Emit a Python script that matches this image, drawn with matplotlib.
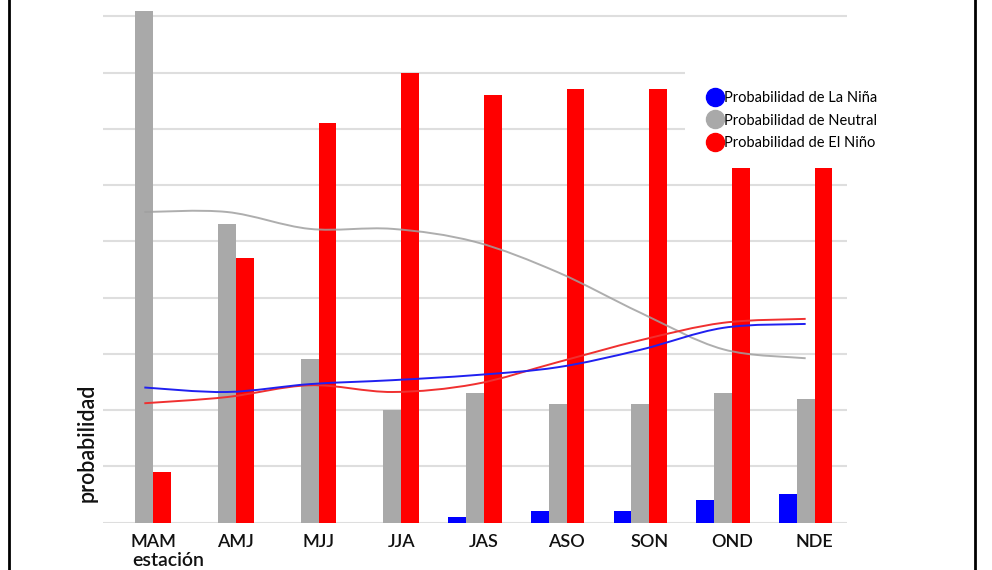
import numpy as np
import matplotlib
matplotlib.use("Agg")
import matplotlib.pyplot as plt
from matplotlib.path import Path
from matplotlib.patches import PathPatch, Rectangle
from matplotlib.lines import Line2D

plt.rcParams['font.family'] = ['Lato', 'DejaVu Sans']

# seasons and forecast probabilities (%)
estaciones = ['MAM', 'AMJ', 'MJJ', 'JJA', 'JAS', 'ASO', 'SON', 'OND', 'NDE']
prob_nina = [0, 0, 0, 0, 1, 2, 2, 4, 5]
prob_neutral = [91, 53, 29, 20, 23, 21, 21, 23, 22]
prob_nino = [9, 47, 71, 80, 76, 77, 77, 63, 63]

# climatological probabilities (%) - smooth lines
clim_nina = [24, 23.2, 24.6, 25.3, 26.2, 27.6, 30.7, 34.6, 35.3]
clim_neutral = [55.2, 55.2, 52.2, 52.2, 49.9, 44.5, 37.3, 30.8, 29.2]
clim_nino = [21.2, 22.3, 24.4, 23.2, 24.6, 28.5, 32.4, 35.5, 36.2]

c_nina = '#0000ff'
c_neutral = '#a9a9a9'
c_nino = '#ff0000'


def smooth_path(x, y):
    # catmull-rom style bezier through the data points (like excel smoothing)
    x = np.asarray(x, float)
    y = np.asarray(y, float)
    pts = np.column_stack([x, y])
    verts = [pts[0]]
    codes = [Path.MOVETO]
    n = len(pts)
    for i in range(n - 1):
        p0 = pts[i - 1] if i > 0 else pts[i]
        p1 = pts[i]
        p2 = pts[i + 1]
        p3 = pts[i + 2] if i + 2 < n else pts[i + 1]
        c1 = p1 + (p2 - p0) / 6.0
        c2 = p2 - (p3 - p1) / 6.0
        verts += [c1, c2, p2]
        codes += [Path.CURVE4] * 3
    return Path(verts, codes)


fig = plt.figure(figsize=(9.92, 5.7), dpi=100)
ax = fig.add_axes([103 / 992, 1 - 522.5 / 570, 744 / 992, 522.5 / 570])

x = np.arange(len(estaciones))
w = 0.215

ax.bar(x - w, prob_nina, w, color=c_nina, zorder=2)
ax.bar(x, prob_neutral, w, color=c_neutral, zorder=2)
ax.bar(x + w, prob_nino, w, color=c_nino, zorder=2)

for vals, col, a in [(clim_neutral, '#a0a0a0', 0.85), (clim_nino, '#f03030', 1), (clim_nina, '#2020f0', 1)]:
    ax.add_patch(PathPatch(smooth_path(x, vals), fill=False, edgecolor=col,
                           lw=1.4, alpha=a, zorder=3))

ax.set_xlim(-0.5, len(estaciones) - 0.5)
ax.set_ylim(0, 522.5 / 5.625)
ax.set_yticks(np.arange(0, 100, 10))
ax.set_yticklabels([])
ax.tick_params(axis='y', length=0)
ax.grid(axis='y', color='#dedede', lw=1.5, zorder=0)
ax.set_axisbelow(True)
for s in ax.spines.values():
    s.set_visible(False)

ax.set_xticks(x + w / 2)
ax.set_xticklabels(estaciones, fontsize=13, fontweight='semibold', color='#111111')
ax.tick_params(axis='x', length=0, pad=8)

fig.text(168 / 992, 1 - 560 / 570, 'estación', fontsize=14, fontweight='semibold',
         ha='center', va='center', color='#111111')
fig.text(87 / 992, 1 - 443 / 570, 'probabilidad', fontsize=15.5, fontweight='semibold',
         rotation=90, ha='center', va='center', color='#111111')

handles = [Line2D([], [], ls='none', marker='o', markersize=13, color=c)
           for c in (c_nina, c_neutral, c_nino)]
labels = ['Probabilidad de La Niña', 'Probabilidad de Neutral', 'Probabilidad de El Niño']
leg = ax.legend(handles, labels, loc='upper left', bbox_to_anchor=(685 / 992, 1 - 70 / 570),
                bbox_transform=fig.transFigure,
                fontsize=10.5, frameon=True, framealpha=1, facecolor='white', edgecolor='none',
                fancybox=False, handletextpad=0.05, labelspacing=0.58, borderpad=1.45,
                handlelength=1.2, borderaxespad=0)
leg.set_zorder(1)

# black frame around the picture
fig.patches.append(Rectangle((9 / 992, -0.01), 966 / 992, 1.02, transform=fig.transFigure,
                             fill=False, edgecolor='black', lw=2))

fig.savefig('out.png', dpi=100)
